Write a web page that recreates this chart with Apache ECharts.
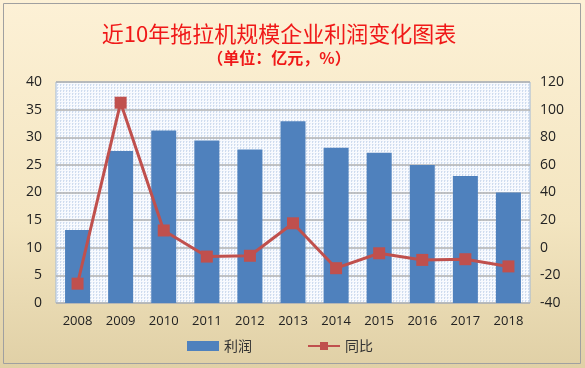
<!DOCTYPE html>
<html><head><meta charset="utf-8">
<script src="https://cdn.jsdelivr.net/npm/echarts@6/dist/echarts.min.js"></script>
<style>html,body{margin:0;padding:0;}#c{width:585px;height:368px;}</style>
</head><body><div id="c"></div>
<script>
const years = ['2008','2009','2010','2011','2012','2013','2014','2015','2016','2017','2018'];
const profit = [13.2, 27.5, 31.2, 29.4, 27.8, 32.9, 28.1, 27.2, 25.0, 23.0, 20.0];
const yoy = [-26, 105, 12.5, -6.4, -5.8, 17.7, -14.8, -4, -8.8, -8.3, -13.5];
const titleText = '近10年拖拉机规模企业利润变化图表';
const subText = '（单位：亿元，%）';

const pc = document.createElement('canvas');
pc.width = 3; pc.height = 3;
const g = pc.getContext('2d');
g.fillStyle = '#f8fafe'; g.fillRect(0,0,3,3);
g.fillStyle = '#cfdcef'; g.fillRect(0,0,1,1); g.fillRect(0,1,1,1);
g.fillStyle = '#e4ecf7'; g.fillRect(1,0,1,1);

const chart = echarts.init(document.getElementById('c'));
chart.setOption({
  backgroundColor: {type:'linear',x:0,y:0,x2:0,y2:1,colorStops:[{offset:0,color:'#fdf1d6'},{offset:0.6,color:'#f3e5c0'},{offset:1,color:'#e0d0a6'}]},
  graphic: [{type:'rect', shape:{x:3.5,y:3.5,width:577,height:360}, style:{fill:'none', stroke:'#a0a0a0', lineWidth:1}, silent:true}],
  title: [
    {text: titleText, left: 274, textAlign:'center', top: 18,
     textStyle: {color:'#f01818', fontSize: 22, fontWeight:'normal', fontFamily:'Noto Sans CJK SC'}},
    {text: subText, left: 274, textAlign:'center', top: 45,
     textStyle: {color:'#f01818', fontSize: 16, fontWeight:'bold', fontFamily:'Noto Sans CJK SC'}}
  ],
  legend: {
    bottom: 10, left: 182, itemGap: 55, itemWidth: 32, itemHeight: 10,
    textStyle: {fontSize: 14, color:'#333', fontFamily:'Noto Sans CJK SC'},
    data: [{name:'利润', icon:'rect'}, {name:'同比'}]
  },
  grid: {left: 56, right: 55, top: 82, bottom: 65, show: true, backgroundColor:{image: pc, repeat:'repeat'}, borderColor:'#9fb8d8', borderWidth: 1},
  xAxis: {
    type:'category', data: years,
    axisLine:{show:false}, axisTick:{show:false},
    axisLabel:{color:'#222', fontSize: 13, margin: 12, fontFamily:'Open Sans'}
  },
  yAxis: [
    {type:'value', min:0, max:40, interval:5,
     axisLabel:{color:'#222', fontSize:14, margin: 14, fontFamily:'Open Sans'},
     splitLine:{lineStyle:{color:'#b0b0b0', width:1.5}}, axisLine:{show:false}},
    {type:'value', min:-40, max:120, interval:20,
     axisLabel:{color:'#222', fontSize:14, margin: 10, fontFamily:'Open Sans'},
     splitLine:{show:false}, axisLine:{show:false}}
  ],
  series: [
    {name:'利润', type:'bar', data: profit, barWidth: 25, itemStyle:{color:'#4f81bd'}, yAxisIndex:0},
    {name:'同比', type:'line', data: yoy, yAxisIndex:1, symbol:'rect', symbolSize: 12,
     lineStyle:{color:'#c0504d', width:3}, itemStyle:{color:'#c0504d'}}
  ]
});
</script></body></html>
